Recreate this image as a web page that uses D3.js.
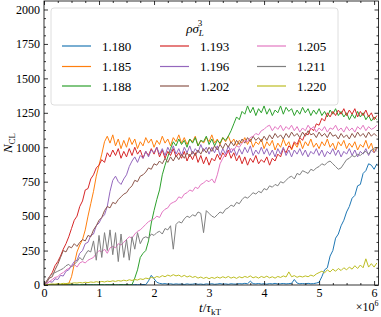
<!DOCTYPE html>
<html>
<head>
<meta charset="utf-8">
<script src="https://cdn.jsdelivr.net/npm/d3@7"></script>
<style>
  body { margin: 0; background: #fff; }
  text { font-family: "Liberation Serif", "DejaVu Serif", serif; fill: #000; }
</style>
</head>
<body>
<div id="my_dataviz"></div>
<script>
// sample times in units of 1e6 tau_kT (one sample every 0.05)
const times = d3.range(122).map(i => i * 0.05);

// legend labels (rho sigma_L^3) and matplotlib tab10 colours
const densities = ["1.180", "1.185", "1.188", "1.193", "1.196", "1.202", "1.205", "1.211", "1.220"];
const colors = ["#1f77b4", "#ff7f0e", "#2ca02c", "#d62728", "#9467bd", "#8c564b", "#e377c2", "#7f7f7f", "#bcbd22"];

// N_CL, one value per sample time
const n1180 = [0,0,1,0,2,0,1,0,2,1, 0,2,1,0,3,1,0,2,1,0, 2,1,0,3,1,2,0,1,3,1,
  2,0,1,3,2,1,4,2,30,70, 45,20,12,8,10,6,9,5,8,6, 7,4,8,5,6,9,5,7,4,8,
  6,9,5,7,10,6,8,5,9,7, 6,10,8,12,9,28,10,8,11,7, 9,6,10,8,12,7,9,11,8,10,
  12,40,14,9,11,8,12,9,10,14, 20,60,110,125,210,250,340,370,430,470,
  530,570,630,650,720,730,810,830,880,870, 840,880];
const n1185 = [0,0,1,0,2,0,1,3,2,10, 60,150,240,290,330,400,500,590,680,790,
  870,950,1040,1080,1030,1090,1010,1060,990,1050, 1000,1070,1020,1060,990,1040,1010,1070,1030,1060,
  1000,1050,1020,1080,1030,1060,1010,1070,1040,1090, 1030,1070,1020,1060,1040,1080,1010,1050,1030,1070,
  1040,1090,1030,1060,1020,1070,1040,1080,1030,1060, 1010,1050,1030,1070,1020,1060,1000,1040,1020,1060,
  990,1040,1010,1050,980,1030,1000,1060,1010,1040, 980,1030,1000,1050,990,1040,1010,1060,1000,1030,
  990,1040,1010,1060,1000,1030,980,1040,1010,1050, 990,1030,1000,1040,980,1020,1000,1050,990,1030, 960,1000];
const n1188 = [0,0,0,1,0,0,1,0,0,1, 0,1,0,0,2,0,1,0,0,1, 0,2,0,1,0,3,1,0,2,1,
  2,1,3,50,110,200,230,250,320,450, 540,620,690,800,870,930,990,1040,1010,1060,
  1020,1050,1000,1060,1030,1070,1010,1050,1040,1080, 1020,1060,1010,1050,1030,1070,1050,1080,1120,1170,
  1220,1200,1260,1240,1300,1250,1290,1230,1280,1250, 1300,1240,1280,1230,1270,1250,1300,1240,1290,1260,
  1280,1230,1270,1240,1290,1250,1280,1230,1270,1240, 1280,1230,1260,1220,1270,1240,1280,1230,1260,1220,
  1250,1200,1240,1210,1260,1220,1250,1200,1230,1190, 1220,1200];
const n1193 = [0,30,60,90,140,170,210,260,300,350, 410,470,500,570,610,690,700,770,800,850,
  870,910,890,960,930,980,940,990,920,970, 930,990,940,1000,950,980,920,970,940,990,
  950,1000,930,980,920,970,940,990,930,960, 920,970,900,950,910,960,890,940,880,930,
  870,920,900,950,910,960,930,980,920,960, 900,940,880,930,870,920,890,940,880,910,
  890,930,870,920,900,950,930,990,960,1010, 990,1040,1020,1070,1050,1100,1090,1140,1120,1170,
  1160,1210,1190,1250,1220,1260,1230,1270,1240,1280, 1230,1270,1240,1280,1220,1260,1230,1270,1220,1250, 1200,1230];
const n1196 = [0,10,25,20,45,40,70,65,100,110, 140,170,180,230,250,300,310,360,370,430,
  450,490,510,570,680,760,790,750,730,770, 800,860,900,930,890,940,920,970,930,980,
  960,1000,950,990,940,1000,960,1010,950,990, 940,1000,960,1010,950,990,960,1020,970,1000,
  950,1000,960,1010,940,990,950,1010,960,990, 940,990,950,1000,960,1010,940,980,950,1000,
  950,990,940,980,930,990,950,1000,940,980, 930,980,950,990,940,980,930,970,950,990,
  940,980,930,970,950,990,940,980,930,970, 950,990,940,980,930,970,950,990,940,980, 960,990];
const n1202 = [0,20,50,60,110,150,200,250,240,280, 270,300,280,310,330,320,360,350,400,430,
  470,490,540,570,560,600,590,620,640,660, 670,700,720,760,750,790,800,820,850,840,
  880,870,900,880,920,890,930,900,940,910, 950,920,960,930,970,940,980,950,990,960,
  1000,970,1010,980,1020,990,1030,1000,1040,1010, 1050,1020,1060,1030,1070,1040,1080,1050,1070,1040,
  1080,1050,1090,1060,1100,1070,1090,1060,1100,1070, 1110,1080,1100,1070,1110,1080,1120,1090,1100,1070,
  1110,1080,1100,1070,1110,1080,1090,1060,1100,1070, 1090,1060,1100,1070,1110,1080,1100,1070,1110,1080, 1100,1080];
const n1205 = [0,10,25,40,55,60,80,90,110,120, 140,150,130,160,170,160,180,190,200,230,
  250,240,260,230,270,280,270,300,290,310, 330,350,340,370,390,400,420,440,460,470,
  480,500,490,530,550,560,590,600,610,640, 630,660,670,690,680,710,700,730,740,760,
  750,770,740,800,880,920,950,960,990,980, 1010,1000,1030,1050,1040,1070,1080,1100,1090,1120,
  1130,1150,1160,1120,1150,1130,1160,1120,1150,1130, 1160,1120,1150,1110,1140,1120,1160,1130,1150,1110,
  1140,1120,1150,1110,1140,1130,1160,1120,1140,1110, 1150,1120,1140,1110,1150,1130,1160,1120,1150,1130, 1140,1160];
const n1211 = [0,30,60,80,90,100,110,120,140,150, 130,150,170,200,180,220,250,240,320,180,
  360,200,380,250,400,220,380,170,370,200, 330,180,350,260,380,300,340,350,340,370,
  360,380,390,370,410,400,430,260,440,460, 450,480,500,490,510,500,530,520,380,540,
  520,500,490,510,530,520,550,560,580,570, 600,590,620,640,630,650,670,660,680,670,
  700,690,720,710,730,720,750,740,760,780, 790,770,810,800,830,820,810,840,830,850,
  860,880,870,890,900,880,860,840,850,880, 910,920,940,930,950,940,960,970,950,980, 990,970];
const n1220 = [0,3,5,8,6,10,8,12,10,14, 12,16,14,18,15,20,17,22,19,24, 20,26,22,28,25,30,26,32,28,35,
  30,38,33,40,36,45,40,50,46,55, 50,62,56,68,60,72,64,75,66,72, 60,70,58,66,55,62,50,58,48,56,
  46,55,48,58,50,60,52,62,50,58, 48,60,52,62,55,66,52,60,50,62, 54,64,52,60,50,62,55,66,58,95,
  60,68,56,64,58,66,60,72,64,80, 90,100,88,110,95,115,100,120,105,125,
  110,130,115,140,120,145,125,190,130,155, 130,160];

const series = [n1180, n1185, n1188, n1193, n1196, n1202, n1205, n1211, n1220];

// axis ticks
const xTicks = [0, 1, 2, 3, 4, 5, 6];
const yTicks = [0, 250, 500, 750, 1000, 1250, 1500, 1750, 2000];

// set the dimensions and margins of the graph
const margin = {top: 1, right: 2.5, bottom: 32, left: 44},
    width = 381 - margin.left - margin.right,
    height = 317 - margin.top - margin.bottom;

const svg = d3.select("#my_dataviz")
  .append("svg")
    .attr("width", 381)
    .attr("height", 317)
  .append("g")
    .attr("transform", `translate(${margin.left},${margin.top})`);

const x = d3.scaleLinear().domain([0, 6.08]).range([0, width]);
const y = d3.scaleLinear().domain([0, 2061.7]).range([height, 0]);

svg.append("clipPath").attr("id", "clip")
  .append("rect").attr("width", width).attr("height", height);

// the curves
const line = d3.line()
  .x((d, i) => x(times[i]))
  .y(d => y(d));

svg.append("g").attr("clip-path", "url(#clip)")
  .selectAll("path")
  .data(series)
  .join("path")
    .attr("fill", "none")
    .attr("stroke", (d, i) => colors[i])
    .attr("stroke-width", 1)
    .attr("stroke-linejoin", "round")
    .attr("d", line);

// ticks pointing inwards on all four sides, with minor ticks
const xMinor = d3.range(0, 6.08, 0.25).filter(v => !xTicks.includes(v));
const yMinor = d3.range(0, 2061, 62.5).filter(v => v % 250 !== 0);

function addAxis(axis, transform) {
  const g = svg.append("g").attr("transform", transform).call(axis);
  g.select(".domain").remove();
  g.selectAll("line").attr("stroke", "#000").attr("stroke-width", 0.8);
  g.selectAll("text").style("font-size", "12px").style("font-family", '"Liberation Serif", serif');
  return g;
}

addAxis(d3.axisBottom(x).tickValues(xTicks).tickSize(-4).tickPadding(3).tickFormat(d3.format("d")), `translate(0,${height})`);
addAxis(d3.axisBottom(x).tickValues(xMinor).tickSize(-2).tickFormat(""), `translate(0,${height})`);
addAxis(d3.axisTop(x).tickValues(xTicks).tickSize(-4).tickFormat(""), "translate(0,0)");
addAxis(d3.axisTop(x).tickValues(xMinor).tickSize(-2).tickFormat(""), "translate(0,0)");
addAxis(d3.axisLeft(y).tickValues(yTicks).tickSize(-4).tickPadding(4).tickFormat(d3.format("d")), "translate(0,0)");
addAxis(d3.axisLeft(y).tickValues(yMinor).tickSize(-2).tickFormat(""), "translate(0,0)");
addAxis(d3.axisRight(y).tickValues(yTicks).tickSize(-4).tickFormat(""), `translate(${width},0)`);
addAxis(d3.axisRight(y).tickValues(yMinor).tickSize(-2).tickFormat(""), `translate(${width},0)`);

// frame
svg.append("rect")
  .attr("width", width).attr("height", height)
  .attr("fill", "none").attr("stroke", "#000").attr("stroke-width", 0.8);

// axis labels
const xl = svg.append("text")
  .attr("x", 166).attr("y", height + 27)
  .attr("text-anchor", "middle")
  .style("font-size", "13px");
xl.append("tspan").style("font-style", "italic").text("t");
xl.append("tspan").text("/");
xl.append("tspan").style("font-style", "italic").text("τ");
xl.append("tspan").attr("dy", 3).style("font-size", "9px").text("kT");

const ex = svg.append("text")
  .attr("x", width).attr("y", height + 25.5)
  .attr("text-anchor", "end")
  .style("font-size", "12px");
ex.append("tspan").text("×10");
ex.append("tspan").attr("dy", -4.5).style("font-size", "8px").text("6");

const yl = svg.append("text")
  .attr("transform", `translate(${-32},${142}) rotate(-90)`)
  .attr("text-anchor", "middle")
  .style("font-size", "13px");
yl.append("tspan").style("font-style", "italic").text("N");
yl.append("tspan").attr("dy", 3).style("font-size", "9px").text("CL");

// legend
const legend = svg.append("g").attr("transform", "translate(7,7)");
legend.append("rect")
  .attr("width", 287).attr("height", 97).attr("rx", 3)
  .attr("fill", "#fff").attr("fill-opacity", 0.85)
  .attr("stroke", "#d6d6d6").attr("stroke-width", 0.8);

const lt = legend.append("text")
  .attr("x", 144).attr("y", 25)
  .attr("text-anchor", "middle")
  .style("font-size", "13px");
lt.append("tspan").style("font-style", "italic").text("ρσ");
lt.append("tspan").attr("dy", 3).style("font-size", "9px").style("font-style", "italic").text("L");
lt.append("tspan").attr("dx", -6).attr("dy", -10).style("font-size", "9px").text("3");

const colX = [11, 109, 206];
const rowY = [38, 58.5, 78];
densities.forEach((lab, i) => {
  const cx = colX[Math.floor(i / 3)], cy = rowY[i % 3];
  legend.append("line")
    .attr("x1", cx).attr("x2", cx + 29)
    .attr("y1", cy).attr("y2", cy)
    .attr("stroke", colors[i]).attr("stroke-width", 1.2);
  legend.append("text")
    .attr("x", cx + 40).attr("y", cy + 4.5)
    .style("font-size", "13px")
    .text(lab);
});
</script>
</body>
</html>
